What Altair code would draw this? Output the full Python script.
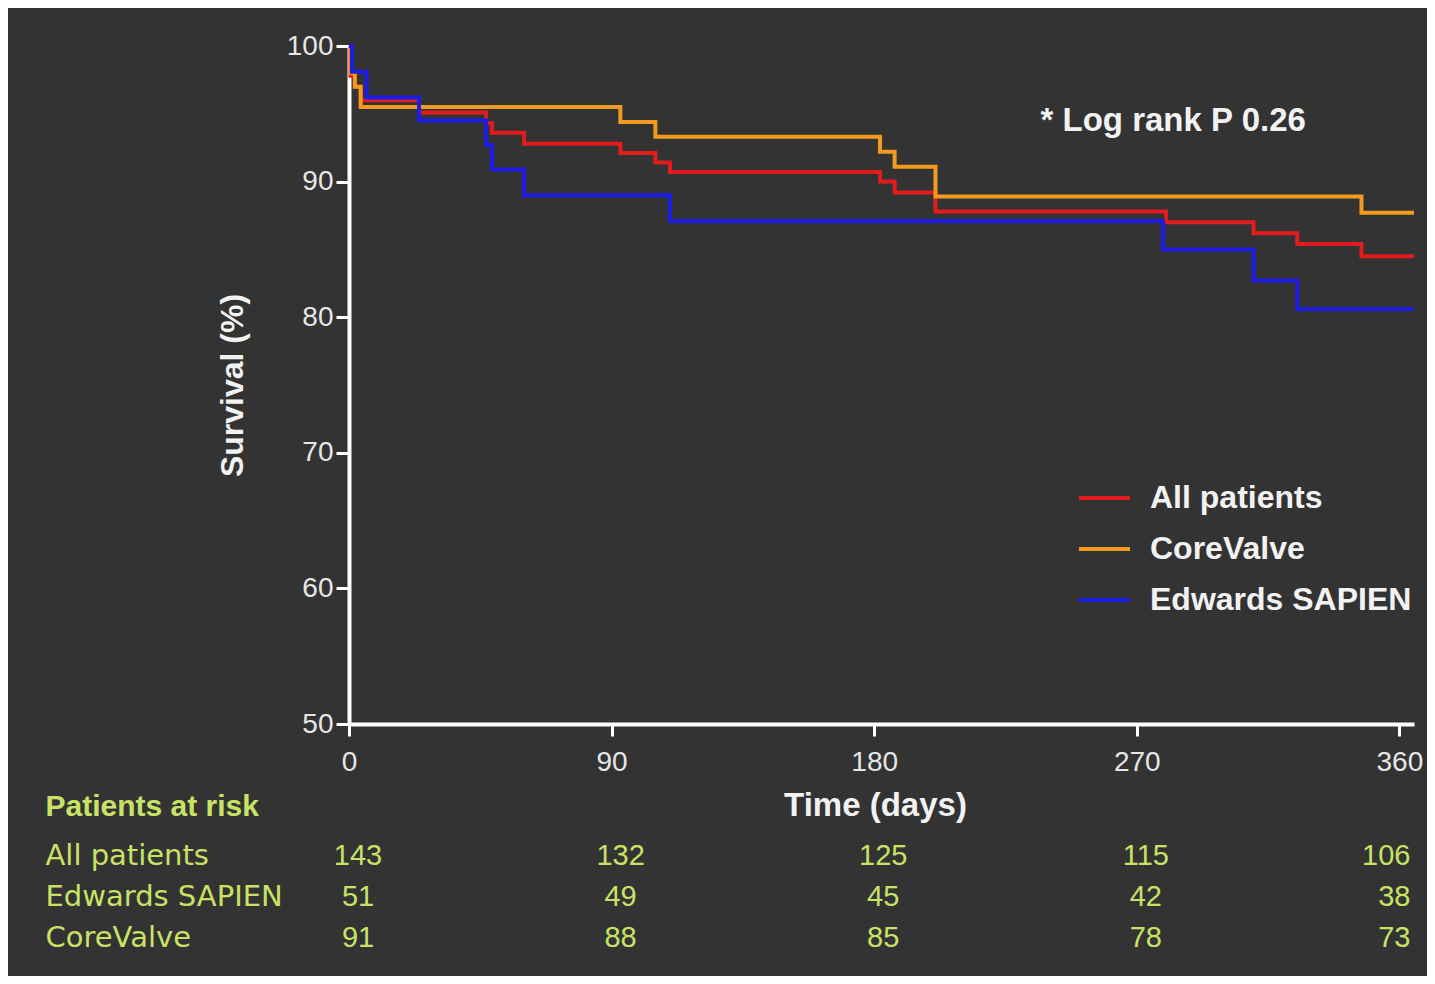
import altair as alt
import pandas as pd

# ---- Kaplan-Meier step points (day, survival %) ----
all_days = [0, 0.5, 2, 4, 24, 47, 49, 60, 93, 105, 110, 182, 187, 201, 280, 310, 325, 347, 365]
all_surv = [100, 97.8, 97.0, 96.0, 95.1, 94.3, 93.6, 92.8, 92.1, 91.4, 90.7, 90.0, 89.2, 87.8, 87.0, 86.2, 85.4, 84.5, 84.5]

cv_days = [0, 0.5, 2, 4, 93, 105, 182, 187, 201, 347, 365]
cv_surv = [100, 98.0, 97.0, 95.5, 94.4, 93.3, 92.2, 91.1, 88.9, 87.7, 87.7]

es_days = [0, 1, 6, 24, 47, 49, 60, 110, 279, 310, 325, 365]
es_surv = [100, 98.1, 96.2, 94.5, 92.7, 90.9, 89.0, 87.1, 85.0, 82.7, 80.6, 80.6]

groups = ["All patients", "CoreValve", "Edwards SAPIEN"]
colors = ["#e21c1c", "#f39b1f", "#1c1ce6"]

x_ticks = [0, 90, 180, 270, 360]
y_ticks = [50, 60, 70, 80, 90, 100]

# ---- Patients at risk ----
risk_times = [0, 90, 180, 270, 360]
risk_rows = ["All patients", "Edwards SAPIEN", "CoreValve"]
risk_all = [143, 132, 125, 115, 106]
risk_es = [51, 49, 45, 42, 38]
risk_cv = [91, 88, 85, 78, 73]

note_text = ["* Log rank P 0.26"]
note_day = [237]
note_surv = [94.5]

surv_df = pd.concat([
    pd.DataFrame({"day": all_days, "surv": all_surv, "group": groups[0]}),
    pd.DataFrame({"day": cv_days, "surv": cv_surv, "group": groups[1]}),
    pd.DataFrame({"day": es_days, "surv": es_surv, "group": groups[2]}),
], ignore_index=True)

table_df = pd.DataFrame({
    "day": risk_times * 3,
    "row": [r for r in risk_rows for _ in risk_times],
    "n": risk_all + risk_es + risk_cv,
})

note_df = pd.DataFrame({"day": note_day, "surv": note_surv, "txt": note_text})

BG = "#333333"
WHITE = "#f2f2f2"
LIME = "#c9e265"
FONT = "Liberation Sans"

xscale = alt.Scale(domain=[0, 365], nice=False, zero=False)
yscale = alt.Scale(domain=[50, 100], nice=False, zero=False)

lines = alt.Chart(surv_df).mark_line(interpolate="step-after", strokeWidth=4).encode(
    x=alt.X("day:Q", scale=xscale, axis=alt.Axis(
        values=x_ticks, title=None, grid=False, labelFlush=False,
        domainColor="white", domainWidth=4, tickColor="white", tickWidth=3, tickSize=12,
        labelFont=FONT, labelFontSize=28, labelColor="#e6e6e6", labelPadding=12)),
    y=alt.Y("surv:Q", scale=yscale, axis=alt.Axis(
        values=y_ticks, title="Survival (%)", grid=False,
        domainColor="white", domainWidth=4, tickColor="white", tickWidth=3, tickSize=13,
        labelFont=FONT, labelFontSize=28, labelColor="#e6e6e6", labelPadding=3,
        titleFont=FONT, titleFontSize=32, titleFontWeight="bold", titleColor=WHITE,
        titlePadding=37)),
    color=alt.Color("group:N", scale=alt.Scale(domain=groups, range=colors), legend=alt.Legend(
        title=None, orient="none", legendX=728, legendY=424.5, symbolType="stroke",
        symbolSize=2601, symbolStrokeWidth=4, labelFont=FONT, labelFontSize=32,
        labelFontWeight="bold", labelColor=WHITE, labelOffset=18, rowPadding=7,
        padding=0, labelLimit=400)),
)

note = alt.Chart(note_df).mark_text(
    align="left", baseline="middle", font=FONT, fontSize=33, fontWeight="bold", color=WHITE
).encode(x=alt.X("day:Q", scale=xscale), y=alt.Y("surv:Q", scale=yscale), text="txt:N")

top = alt.layer(lines, note).properties(width=1065, height=678)

base_t = alt.Chart(table_df).encode(
    x=alt.X("day:Q", scale=xscale, axis=alt.Axis(
        orient="top", title="Time (days)", labels=False, ticks=False, domain=False, grid=False,
        titleX=526, titleY=-29.5, titleAlign="center", titleBaseline="middle",
        titleFont=FONT, titleFontSize=33, titleFontWeight="bold", titleColor=WHITE)),
    y=alt.Y("row:N", sort=risk_rows, scale=alt.Scale(paddingInner=0, paddingOuter=0), axis=alt.Axis(
        title="Patients at risk", titleAngle=0, titleX=-304, titleY=-28.5, titleAlign="left",
        titleBaseline="middle", titleFont=FONT, titleFontSize=30, titleFontWeight="bold",
        titleColor=LIME, titleLimit=400,
        labelAlign="left", labelPadding=304, ticks=False, tickSize=0, domain=False, grid=False,
        labelFont="DejaVu Sans", labelFontSize=29, labelColor=LIME, labelLimit=400)),
    text="n:Q",
)
t1 = base_t.transform_filter("datum.day < 360").mark_text(
    font=FONT, fontSize=29, color=LIME, dx=9, baseline="middle")
t2 = base_t.transform_filter("datum.day >= 360").mark_text(
    font=FONT, fontSize=29, color=LIME, dx=11, align="right", baseline="middle")
table = alt.layer(t1, t2).properties(width=1065, height=123)

chart = alt.vconcat(top, table, spacing=13).resolve_legend(color="independent").properties(
    background=BG,
    padding={"left": 37, "top": 24, "right": 4, "bottom": 18},
).configure_view(stroke=None)

chart.save("out.html", embed_options={"renderer": "svg", "actions": False})
